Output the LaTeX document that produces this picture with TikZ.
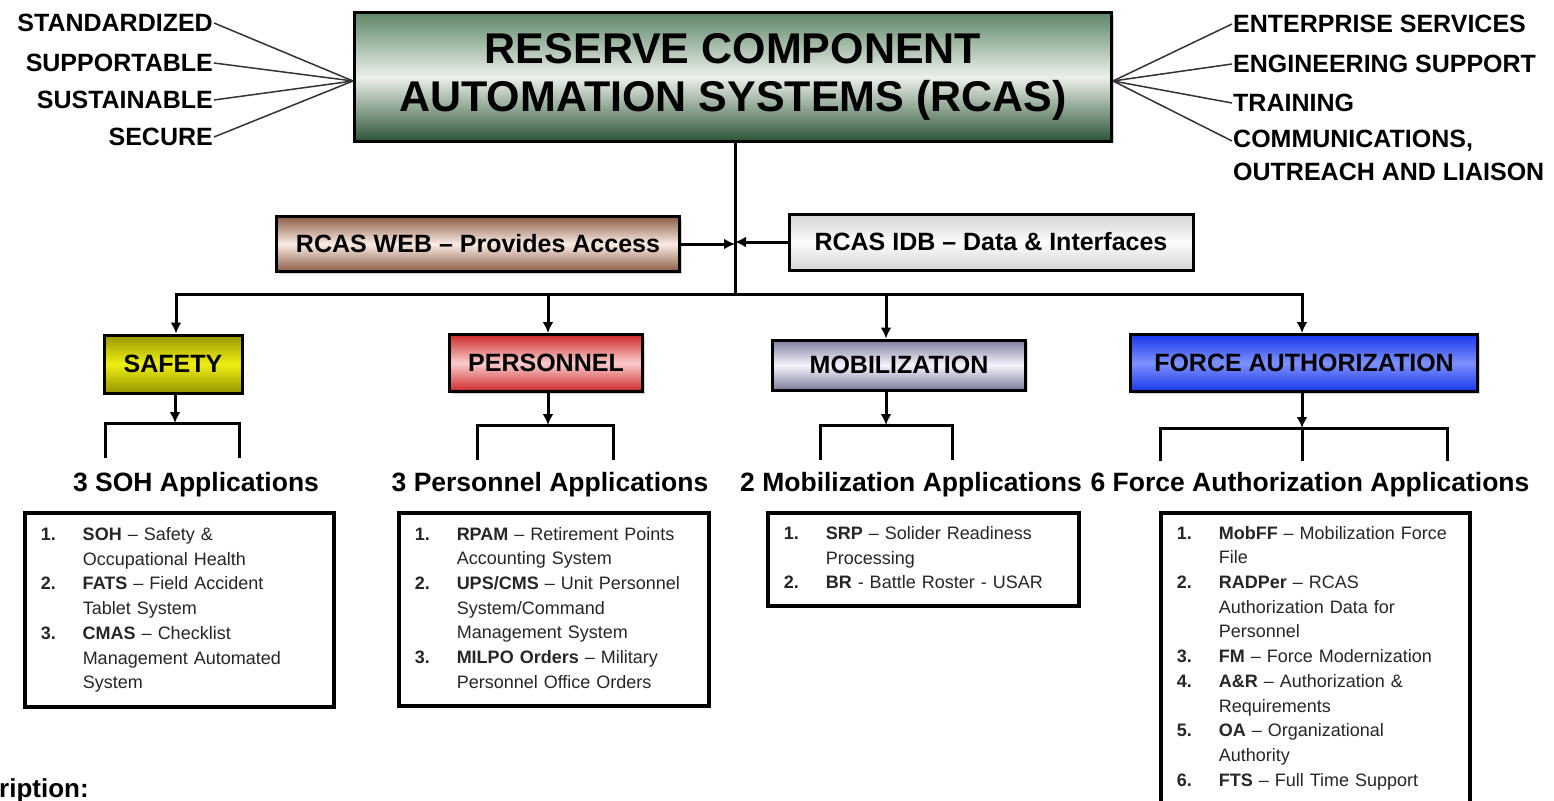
\documentclass[tikz,border=0pt]{standalone}
\usepackage{fontspec}
\setmainfont{Liberation Sans}
\usepackage{tikz}
\usetikzlibrary{arrows.meta}
\usetikzlibrary{shadows}
\usepackage{xcolor}

\definecolor{titledark}{RGB}{45,85,55}
\definecolor{titlemid}{RGB}{95,135,105}
\definecolor{titlelight}{RGB}{236,240,234}
\definecolor{webdark}{RGB}{140,90,70}
\definecolor{weblight}{RGB}{250,236,228}
\definecolor{idbdark}{RGB}{212,212,212}
\definecolor{idblight}{RGB}{252,252,252}
\definecolor{safedark}{RGB}{150,150,0}
\definecolor{safelight}{RGB}{238,238,20}
\definecolor{persdark}{RGB}{205,40,40}
\definecolor{perslight}{RGB}{250,205,205}
\definecolor{mobdark}{RGB}{125,125,158}
\definecolor{moblight}{RGB}{244,244,252}
\definecolor{forcedark}{RGB}{25,55,235}
\definecolor{forcelight}{RGB}{125,145,255}

\begin{document}
\begin{tikzpicture}[x=1pt,y=-1pt,
    catbox/.style={draw=black,line width=3pt,inner sep=0pt,
        font=\fontsize{25}{28}\selectfont\bfseries,
        drop shadow={opacity=0.35,shadow xshift=2pt,shadow yshift=-2pt}},
    tag/.style={font=\fontsize{25}{28}\selectfont\bfseries,inner sep=1pt},
    spoke/.style={line width=1.5pt,draw=black!80},
    bus/.style={line width=3pt,line cap=rect},
    arr/.style={line width=3pt,-{Latex[length=11pt,width=11pt]}},
    head/.style={font=\fontsize{26.5}{30}\selectfont\bfseries},
    listbox/.style={draw=black,line width=3.5pt,anchor=north west,inner xsep=16pt,
        inner ysep=0pt,align=left,text=black!85,font=\fontsize{18}{24.7}\selectfont,
        drop shadow={opacity=0.25,shadow xshift=1.5pt,shadow yshift=-1.5pt},fill=white}
]
        \useasboundingbox (0,0) rectangle (1554,800);
        \clip (0,0) rectangle (1554,800);

        % main box
        \node[catbox,minimum width=757pt,minimum height=128pt,align=center,
            top color=titlemid,bottom color=titledark,middle color=titlelight,
            font=\fontsize{43}{48}\selectfont\bfseries] (rcas) at (733,77)
            {RESERVE COMPONENT\\AUTOMATION SYSTEMS (RCAS)};

        % qualities
        \node[tag,anchor=east] (std) at (214,23) {STANDARDIZED};
        \node[tag,anchor=east] (sup) at (214,63) {SUPPORTABLE};
        \node[tag,anchor=east] (sus) at (214,100) {SUSTAINABLE};
        \node[tag,anchor=east] (sec) at (214,137) {SECURE};

        % services
        \node[tag,anchor=west] (ent) at (1232,24) {ENTERPRISE SERVICES};
        \node[tag,anchor=west] (eng) at (1232,64) {ENGINEERING SUPPORT};
        \node[tag,anchor=west] (trn) at (1232,103) {TRAINING};
        \node[tag,anchor=west] (com) at (1232,141) {COMMUNICATIONS,};
        \node[tag,anchor=west] (out) at (1232,172) {OUTREACH AND LIAISON};

        \draw[spoke] (std.east) -- ([yshift=-4pt]rcas.west);
        \draw[spoke] (sup.east) -- ([yshift=-4pt]rcas.west);
        \draw[spoke] (sus.east) -- ([yshift=-4pt]rcas.west);
        \draw[spoke] (sec.east) -- ([yshift=-4pt]rcas.west);
        \draw[spoke] ([yshift=-4pt]rcas.east) -- (ent.west);
        \draw[spoke] ([yshift=-4pt]rcas.east) -- (eng.west);
        \draw[spoke] ([yshift=-4pt]rcas.east) -- (trn.west);
        \draw[spoke] ([yshift=-4pt]rcas.east) -- (com.west);

        % web and idb
        \node[catbox,minimum width=403pt,minimum height=55pt,
            top color=webdark,bottom color=webdark,middle color=weblight] (web) at (478,244)
            {RCAS WEB – Provides Access};
        \node[catbox,minimum width=404pt,minimum height=56pt,
            top color=idbdark,bottom color=idbdark,middle color=idblight] (idb) at (991,242)
            {RCAS IDB – Data \& Interfaces};

        \coordinate (junc) at (735,294);
        \draw[line width=3pt] (rcas.south -| junc) -- (junc);
        \draw[arr] (web.east) -- (web.east -| junc);
        \draw[arr] (idb.west) -- (idb.west -| junc);

        % functional areas
        \node[catbox,minimum width=138pt,minimum height=58pt,
            top color=safedark,bottom color=safedark,middle color=safelight] (safety) at (173,364) {SAFETY};
        \node[catbox,minimum width=193pt,minimum height=57pt,
            top color=persdark,bottom color=persdark,middle color=perslight] (pers) at (546,363) {PERSONNEL};
        \node[catbox,minimum width=253pt,minimum height=50pt,
            top color=mobdark,bottom color=mobdark,middle color=moblight] (mob) at (899,365) {MOBILIZATION};
        \node[catbox,minimum width=347pt,minimum height=57pt,
            top color=forcedark,bottom color=forcedark,middle color=forcelight] (force) at (1304,363) {FORCE AUTHORIZATION};

        \coordinate (d1) at (176,294);
        \coordinate (d2) at (548,294);
        \coordinate (d3) at (886,294);
        \coordinate (d4) at (1302,294);
        \draw[bus] (d1) -- (d4);
        \draw[arr] (d1) -- (d1 |- safety.north);
        \draw[arr] (d2) -- (d2 |- pers.north);
        \draw[arr] (d3) -- (d3 |- mob.north);
        \draw[arr] (d4) -- (d4 |- force.north);

        % brackets
        \coordinate (b1) at (175,423);
        \coordinate (b2) at (548,425);
        \coordinate (b3) at (886,425);
        \coordinate (b4) at (1302,428);
        \draw[arr] (safety.south -| b1) -- (b1);
        \draw[arr] (pers.south -| b2) -- (b2);
        \draw[arr] (mob.south -| b3) -- (b3);
        \draw[arr] (force.south -| b4) -- (b4);
        \draw[bus] (105,456) -- (105,423) -- (239,423) -- (239,456);
        \draw[bus] (477,458) -- (477,425) -- (613,425) -- (613,458);
        \draw[bus] (820,458) -- (820,425) -- (952,425) -- (952,458);
        \draw[bus] (1160,459) -- (1160,428) -- (1447,428) -- (1447,459);
        \draw[bus] (b4) -- (1302,459);

        % headings
        \node[head] (h1) at (196,485) {3 SOH Applications};
        \node[head] (h2) at (550,485) {3 Personnel Applications};
        \node[head] (h3) at (911,485) {2 Mobilization Applications};
        \node[head] (h4) at (1310,485) {6 Force Authorization Applications};

        % application lists
        \node[listbox,text width=277pt,minimum height=194pt] (sohlist) at (23,511) {%
            \begin{tabular}{@{}p{42pt}@{}l@{}}
            \textbf{1.} & \textbf{SOH} – Safety \& \\
             & Occupational Health \\
            \textbf{2.} & \textbf{FATS} – Field Accident \\
             & Tablet System \\
            \textbf{3.} & \textbf{CMAS} – Checklist \\
             & Management Automated \\
             & System
            \end{tabular}};
        \node[listbox,text width=278pt,minimum height=193pt] (perslist) at (397,511) {%
            \begin{tabular}{@{}p{42pt}@{}l@{}}
            \textbf{1.} & \textbf{RPAM} – Retirement Points \\
             & Accounting System \\
            \textbf{2.} & \textbf{UPS/CMS} – Unit Personnel \\
             & System/Command \\
             & Management System \\
            \textbf{3.} & \textbf{MILPO Orders} – Military \\
             & Personnel Office Orders
            \end{tabular}};
        \node[listbox,text width=279pt,minimum height=93pt] (moblist) at (766,511) {%
            \begin{tabular}{@{}p{42pt}@{}l@{}}
            \textbf{1.} & \textbf{SRP} – Solider Readiness \\
             & Processing \\
            \textbf{2.} & \textbf{BR} - Battle Roster - USAR
            \end{tabular}};
        \node[listbox,text width=277pt,minimum height=290pt] (forcelist) at (1159,511) {%
            \begin{tabular}{@{}p{42pt}@{}l@{}}
            \textbf{1.} & \textbf{MobFF} – Mobilization Force \\
             & File \\
            \textbf{2.} & \textbf{RADPer} – RCAS \\
             & Authorization Data for \\
             & Personnel \\
            \textbf{3.} & \textbf{FM} – Force Modernization \\
            \textbf{4.} & \textbf{A\&R} – Authorization \& \\
             & Requirements \\
            \textbf{5.} & \textbf{OA} – Organizational \\
             & Authority \\
            \textbf{6.} & \textbf{FTS} – Full Time Support
            \end{tabular}};

        \node[anchor=base west,inner sep=0pt,font=\fontsize{26}{30}\selectfont\bfseries] (desc) at (-1,797) {ription:};
    \end{tikzpicture}
\end{document}
